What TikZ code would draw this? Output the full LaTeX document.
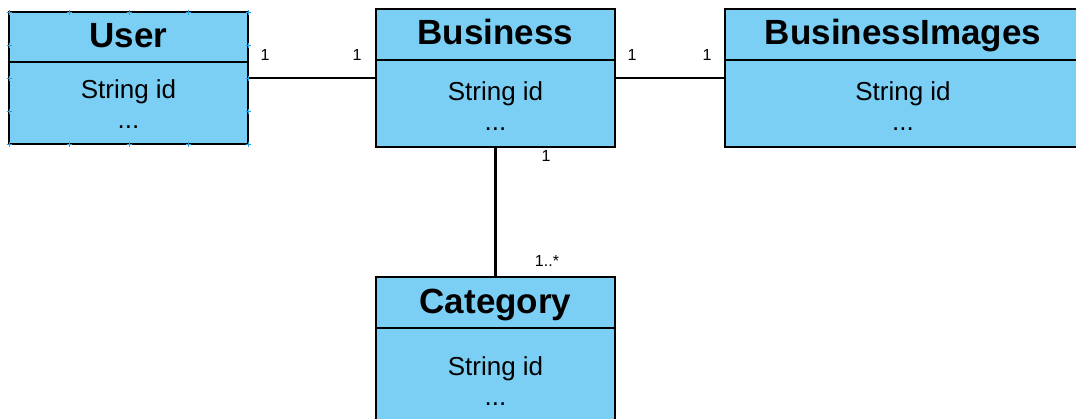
\documentclass[tikz,border=0pt]{standalone}
\usepackage{fontspec}
\setmainfont{Liberation Sans}
\definecolor{classfill}{HTML}{7BCFF4}
\definecolor{handle}{HTML}{2A9FE0}
\tikzset{
  classbox/.style={draw=black, line width=2.4pt, fill=classfill, inner sep=0pt},
  divider/.style={draw=black, line width=2.4pt},
  assoc/.style={draw=black, line width=2.4pt},
  title/.style={anchor=base, inner sep=0pt, font=\fontsize{35}{40}\selectfont\bfseries},
  member/.style={anchor=base, inner sep=0pt, font=\fontsize{26}{30}\selectfont},
  mult/.style={anchor=base, inner sep=0pt, font=\fontsize{16}{18}\selectfont},
  tick/.style={draw=handle, line width=0.9pt}
}
\begin{document}
\begin{tikzpicture}[x=1pt, y=-1pt]
\useasboundingbox (0,0) rectangle (1076,418);
\begin{scope}
\clip (0,0) rectangle (1076,418);

% class boxes
\node[classbox, minimum width=239pt, minimum height=132pt] (user) at (128.5,78) {};
\node[classbox, minimum width=239pt, minimum height=138pt] (business) at (495.5,78) {};
\node[classbox, minimum width=356pt, minimum height=138pt] (images) at (903,78) {};
\node[classbox, minimum width=239pt, minimum height=163pt] (category) at (495.5,358.5) {};

% compartment dividers
\draw[divider] (user.west |- 0,62) -- (user.east |- 0,62);
\draw[divider] (business.west |- 0,60) -- (business.east |- 0,60);
\draw[divider] (images.west |- 0,60) -- (images.east |- 0,60);
\draw[divider] (category.west |- 0,328) -- (category.east |- 0,328);

% selection handles around User
\foreach \hx in {9,69,129,188,248} {
  \draw[tick] (\hx-2.5,12) -- (\hx+2.5,12) (\hx,9.5) -- (\hx,14.5);
  \draw[tick] (\hx-2.5,144) -- (\hx+2.5,144) (\hx,141.5) -- (\hx,146.5);
}
\foreach \hy in {45,78,111} {
  \draw[tick] (6.5,\hy) -- (11.5,\hy) (9,\hy-2.5) -- (9,\hy+2.5);
  \draw[tick] (245.5,\hy) -- (250.5,\hy) (248,\hy-2.5) -- (248,\hy+2.5);
}

% titles and members
\node[title] (userT) at (128.5,47) {User};
\node[member] (userA) at (128.5,98) {String id};
\node[member] (userB) at (128.5,128) {...};

\node[title] (businessT) at (495.5,44) {Business};
\node[member] (businessA) at (495.5,100) {String id};
\node[member] (businessB) at (495.5,130) {...};

\node[title] (imagesT) at (903,44) {BusinessImages};
\node[member] (imagesA) at (903,100) {String id};
\node[member] (imagesB) at (903,130) {...};

\node[title] (categoryT) at (495.5,313) {Category};
\node[member] (categoryA) at (495.5,375) {String id};
\node[member] (categoryB) at (495.5,405) {...};

% associations
\draw[assoc] (user) -- (business);
\draw[assoc] (business) -- (images);
\draw[assoc] (business) -- (category);

% multiplicities
\node[mult] (m1) at (265,60) {1};
\node[mult] (m2) at (357,60) {1};
\node[mult] (m3) at (632,60) {1};
\node[mult] (m4) at (707,60) {1};
\node[mult] (m5) at (546,161) {1};
\node[mult] (m6) at (547,266) {1..*};
\end{scope}
\end{tikzpicture}
\end{document}
